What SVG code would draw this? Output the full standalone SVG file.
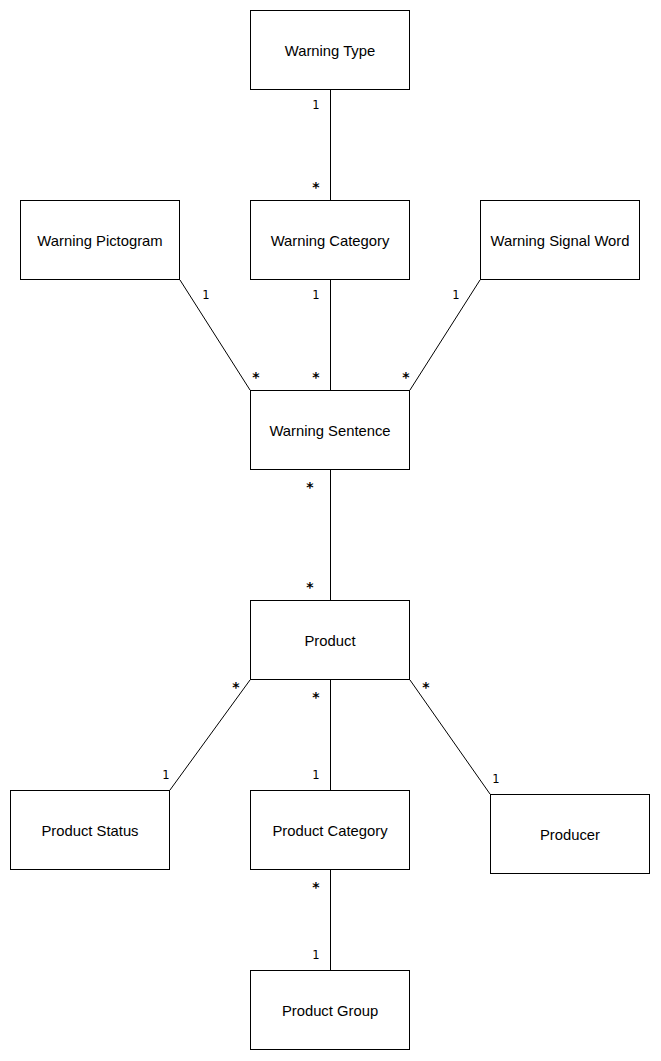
<svg xmlns="http://www.w3.org/2000/svg" width="661" height="1061" viewBox="0 0 661 1061">
<style>
.box rect{fill:#fff;stroke:#000;stroke-width:1}
.box text{font-family:"Liberation Sans",Arial,sans-serif;font-size:14.8px;text-anchor:middle;dominant-baseline:central;fill:#000}
.conn line{stroke:#000;stroke-width:1}
.lbl{font-family:"DejaVu Sans",Verdana,sans-serif;font-size:11.5px;text-anchor:middle;dominant-baseline:central;fill:#000}
.st{font-family:"DejaVu Sans",Verdana,sans-serif;font-size:14px;font-weight:bold;text-anchor:middle;dominant-baseline:central;fill:#000}
</style>
<rect width="661" height="1061" fill="#fff"/>
<g id="connectors" class="conn">
<line x1="330.5" y1="90" x2="330.5" y2="200"/>
<line x1="330.5" y1="280" x2="330.5" y2="390"/>
<line x1="180" y1="280" x2="250" y2="390"/>
<line x1="480" y1="280" x2="410" y2="390"/>
<line x1="330.5" y1="470" x2="330.5" y2="600"/>
<line x1="250" y1="680" x2="170" y2="790"/>
<line x1="330.5" y1="680" x2="330.5" y2="790"/>
<line x1="410" y1="680" x2="490" y2="794"/>
<line x1="330.5" y1="870" x2="330.5" y2="970"/>
</g>
<g id="labels">
<text class="lbl" x="316" y="105">1</text><text class="st" x="316" y="187">*</text>
<text class="lbl" x="206" y="295">1</text><text class="st" x="256" y="377">*</text>
<text class="lbl" x="316" y="295">1</text><text class="st" x="316" y="377">*</text>
<text class="lbl" x="456" y="295">1</text><text class="st" x="406" y="377">*</text>
<text class="st" x="310" y="487">*</text><text class="st" x="310" y="587">*</text>
<text class="st" x="236" y="687">*</text><text class="lbl" x="166" y="775">1</text>
<text class="st" x="316" y="697">*</text><text class="lbl" x="316" y="775">1</text>
<text class="st" x="426" y="687">*</text><text class="lbl" x="496" y="779">1</text>
<text class="st" x="316" y="887">*</text><text class="lbl" x="316" y="955">1</text>
</g>
<g id="warning-type" class="box"><rect x="250.5" y="10.5" width="159" height="79"/><text x="330" y="51">Warning Type</text></g>
<g id="warning-pictogram" class="box"><rect x="20.5" y="200.5" width="159" height="79"/><text x="100" y="241">Warning Pictogram</text></g>
<g id="warning-category" class="box"><rect x="250.5" y="200.5" width="159" height="79"/><text x="330" y="241">Warning Category</text></g>
<g id="warning-signal-word" class="box"><rect x="480.5" y="200.5" width="159" height="79"/><text x="560" y="241">Warning Signal Word</text></g>
<g id="warning-sentence" class="box"><rect x="250.5" y="390.5" width="159" height="79"/><text x="330" y="431">Warning Sentence</text></g>
<g id="product" class="box"><rect x="250.5" y="600.5" width="159" height="79"/><text x="330" y="641">Product</text></g>
<g id="product-status" class="box"><rect x="10.5" y="790.5" width="159" height="79"/><text x="90" y="831">Product Status</text></g>
<g id="product-category" class="box"><rect x="250.5" y="790.5" width="159" height="79"/><text x="330" y="831">Product Category</text></g>
<g id="producer" class="box"><rect x="490.5" y="794.5" width="159" height="79"/><text x="570" y="835">Producer</text></g>
<g id="product-group" class="box"><rect x="250.5" y="970.5" width="159" height="79"/><text x="330" y="1011">Product Group</text></g>
</svg>
